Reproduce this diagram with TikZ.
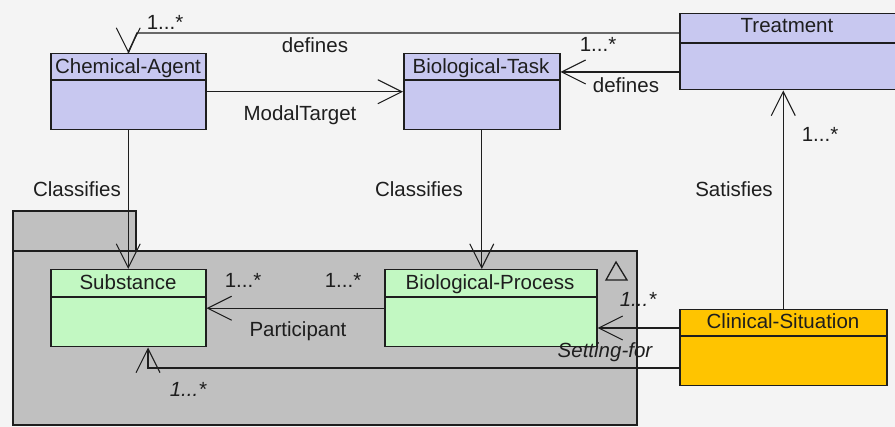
\documentclass[tikz,border=0pt]{standalone}
\usepackage{fontspec}
\setmainfont{Liberation Sans}
\usetikzlibrary{arrows.meta,calc}
\definecolor{bg}{HTML}{F4F4F4}
\definecolor{lav}{HTML}{C8C8F0}
\definecolor{mint}{HTML}{C2F8C2}
\definecolor{pkg}{HTML}{C0C0C0}
\definecolor{amber}{HTML}{FFC400}
\definecolor{ink}{HTML}{1E1E1E}
\begin{document}
\begin{tikzpicture}[x=1pt,y=-1pt,
  font=\fontsize{20.5}{24}\selectfont,
  every node/.style={text=ink},
  box/.style={draw=ink, line width=1.5pt, anchor=north west, inner sep=0pt},
  pkgbox/.style={draw=ink, line width=1.6pt, fill=pkg, anchor=north west, inner sep=0pt},
  sep/.style={draw=ink, line width=1.5pt},
  rel/.style={draw=ink, line width=1.4pt},
  opentip/.style={-{Straight Barb[length=24pt,width=24pt,line width=1.1pt]}},
  lbl/.style={inner sep=0pt, anchor=base},
  ilbl/.style={lbl, font=\fontsize{20.5}{24}\selectfont\itshape}]

% canvas
\useasboundingbox (0,0) rectangle (895,427);
\fill[bg] (0,0) rectangle (895,427);

% package with its tab
\node[pkgbox, minimum width=123pt, minimum height=40pt] (tab) at (12,210) {};
\node[pkgbox, minimum width=624pt, minimum height=174pt] (pk) at (12,250) {};
\draw[ink, line width=1.3pt] (616,262) -- (606,280) -- (627,280) -- cycle;

% classes
\node[box, fill=lav, minimum width=220pt, minimum height=76pt] (ta) at (679,13) {};
\draw[sep] ($(ta.north west)+(0,30)$) -- ($(ta.north east)+(0,30)$);
\node[lbl] (tat) at (787,33) {Treatment};

\node[box, fill=lav, minimum width=155pt, minimum height=76pt] (ca) at (50,53) {};
\draw[sep] ($(ca.north west)+(0,27)$) -- ($(ca.north east)+(0,27)$);
\node[lbl] (cat) at (128,74) {Chemical-Agent};

\node[box, fill=lav, minimum width=156pt, minimum height=76pt] (bt) at (403,53) {};
\draw[sep] ($(bt.north west)+(0,27)$) -- ($(bt.north east)+(0,27)$);
\node[lbl] (btt) at (481,74) {Biological-Task};

\node[box, fill=mint, minimum width=155pt, minimum height=77pt] (sub) at (50,269) {};
\draw[sep] ($(sub.north west)+(0,28)$) -- ($(sub.north east)+(0,28)$);
\node[lbl] (subt) at (128,290) {Substance};

\node[box, fill=mint, minimum width=212pt, minimum height=77pt] (bp) at (384,269) {};
\draw[sep] ($(bp.north west)+(0,28)$) -- ($(bp.north east)+(0,28)$);
\node[lbl] (bpt) at (490,290) {Biological-Process};

\node[box, fill=amber, minimum width=207pt, minimum height=76pt] (cs) at (679,309) {};
\draw[sep] ($(cs.north west)+(0,27)$) -- ($(cs.north east)+(0,27)$);
\node[lbl] (cst) at (783,329) {Clinical-Situation};

% associations
\draw[rel] ($(ta.north west)+(0,20)$) -- (137,33) -- (ca.north);
\draw[rel,opentip] ($(ca.north)+(0,-2)$) -- (ca.north);
\draw[rel,opentip] ($(ta.north west)+(0,59)$) -- ($(bt.north east)+(0,19)$);
\draw[rel,opentip] (ca.east) -- (bt.west);
\draw[rel,opentip] (ca.south) -- (sub.north);
\draw[rel,opentip] (bt.south) -- (bt.south |- bp.north);
\draw[rel,opentip] (cs.north) -- (cs.north |- ta.south);
\draw[rel,opentip] ($(cs.north west)+(0,19)$) -- ($(bp.north east)+(0,59)$);
\draw[rel,opentip] (bp.west) -- (sub.east);
\draw[rel,opentip] ($(cs.north west)+(0,59)$) -| ($(sub.south west)+(98,0)$);

% association labels
\node[lbl] (l1) at (165,30) {1...*};
\node[lbl] (l2) at (315,53) {defines};
\node[lbl] (l3) at (300,121) {ModalTarget};
\node[lbl] (l4) at (598,52) {1...*};
\node[lbl] (l5) at (626,93) {defines};
\node[lbl] (l6) at (820,142) {1...*};
\node[lbl] (l7) at (77,197) {Classifies};
\node[lbl] (l8) at (419,197) {Classifies};
\node[lbl] (l9) at (734,197) {Satisfies};
\node[lbl] (l10) at (243,288) {1...*};
\node[lbl] (l11) at (343,288) {1...*};
\node[lbl] (l12) at (298,337) {Participant};
\node[ilbl] (l13) at (638,307) {1...*};
\node[ilbl] (l14) at (605,358) {Setting-for};
\node[ilbl] (l15) at (188,397) {1...*};
\end{tikzpicture}
\end{document}
